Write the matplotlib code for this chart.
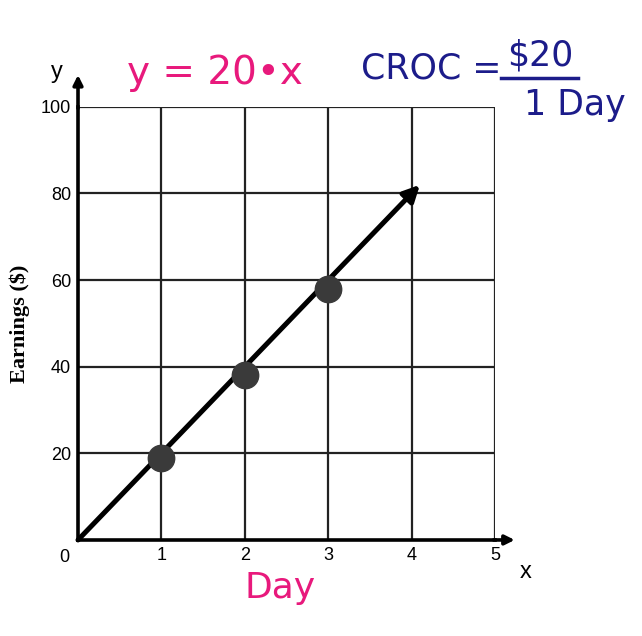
"""Recreate the hand-annotated earnings-per-day line graph."""

import matplotlib
import matplotlib.pyplot as plt
from matplotlib.lines import Line2D

matplotlib.use("Agg")

days = [1, 2, 3]
earnings = [19, 38, 58]
line_days = [0, 4.1]
line_earnings = [0, 82]
x_ticks = [1, 2, 3, 4, 5]
y_ticks = [20, 40, 60, 80, 100]

PINK = "#e8197c"
NAVY = "#1c1c8a"
TICK_FONT = "Liberation Sans"

fig = plt.figure(figsize=(6.42, 6.36), dpi=100)
ax = fig.add_axes([0.1215, 0.151, 0.6495, 0.681])
ax.set_xlim(0, 5)
ax.set_ylim(0, 100)

ax.set_xticks(x_ticks)
ax.set_yticks(y_ticks)
ax.set_xticklabels([str(v) for v in x_ticks], fontsize=13, family=TICK_FONT)
ax.set_yticklabels([str(v) for v in y_ticks], fontsize=13, family=TICK_FONT)
ax.tick_params(length=0, pad=5)
ax.grid(color="#222222", linewidth=1.6)
ax.set_axisbelow(True)

for side in ("top", "right"):
    ax.spines[side].set_visible(False)
for side in ("left", "bottom"):
    ax.spines[side].set_linewidth(2.6)
    ax.spines[side].set_color("black")

# axis arrows extending past the plot area
ax.annotate("", xy=(0, 108), xytext=(0, 99), annotation_clip=False,
            arrowprops=dict(arrowstyle="-|>", color="black", lw=2.6, mutation_scale=14))
ax.annotate("", xy=(5.27, 0), xytext=(4.95, 0), annotation_clip=False,
            arrowprops=dict(arrowstyle="-|>", color="black", lw=2.6, mutation_scale=14))

# the line y = 20x with arrow head
ax.annotate("", xy=(line_days[1], line_earnings[1]), xytext=(line_days[0], line_earnings[0]),
            arrowprops=dict(arrowstyle="-|>", color="black", lw=3.6, mutation_scale=24,
                            shrinkA=0, shrinkB=0))
ax.plot(days, earnings, "o", color="#3a3a3a", markersize=19, zorder=5)

ax.text(-0.16, -2, "0", ha="center", va="top", fontsize=13, family=TICK_FONT)
ax.text(-0.25, 108, "y", ha="center", va="center", fontsize=17, family=TICK_FONT)
ax.text(5.37, -7.5, "x", ha="center", va="center", fontsize=17, family=TICK_FONT)
ax.set_ylabel("Earnings ($)", family="Liberation Serif", fontweight="bold",
              fontsize=16, labelpad=8)

# handwritten notes
fig.text(0.335, 0.885, "y = 20\u2022x", color=PINK, fontsize=28, ha="center", va="center")
fig.text(0.436, 0.075, "Day", color=PINK, fontsize=26, ha="center", va="center")
fig.text(0.672, 0.893, "CROC =", color=NAVY, fontsize=25, ha="center", va="center")
fig.text(0.842, 0.913, "$20", color=NAVY, fontsize=25, ha="center", va="center")
fig.add_artist(Line2D([0.78, 0.90], [0.877, 0.877], color=NAVY, lw=2.5,
                      transform=fig.transFigure))
fig.text(0.895, 0.835, "1 Day", color=NAVY, fontsize=25, ha="center", va="center")

fig.savefig("out.png", dpi=100, facecolor="white")
